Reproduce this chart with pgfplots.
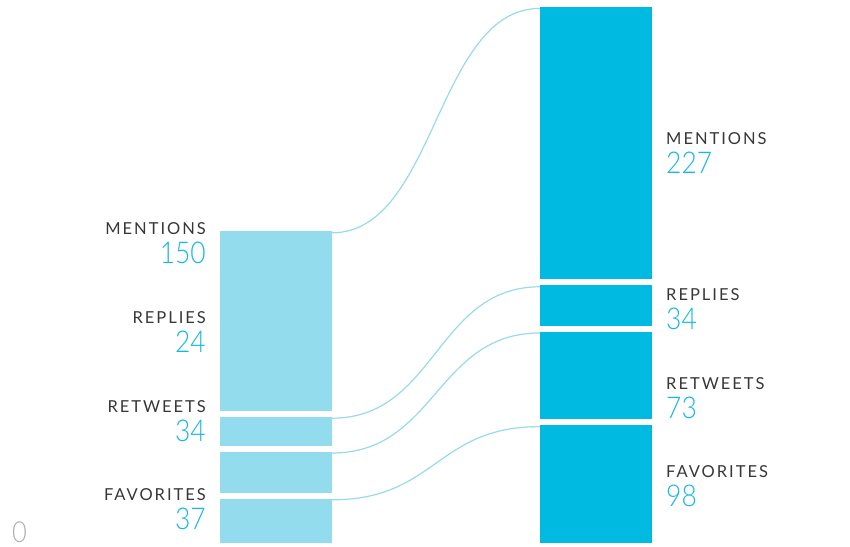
\documentclass[border=0pt]{standalone}
\usepackage{fontspec}
\setmainfont{Lato}
\newfontfamily\namefont{Lato}[LetterSpace=12]
\newfontfamily\numfont{Lato}[UprightFont=* Light, FakeStretch=0.88]
\usepackage{pgfplots}
\pgfplotsset{compat=1.18}
\definecolor{lightbar}{RGB}{146,220,238}
\definecolor{darkbar}{RGB}{0,186,226}
\definecolor{flowline}{RGB}{150,218,236}
\definecolor{numcyan}{RGB}{22,184,226}
\definecolor{namegray}{RGB}{55,55,55}
\definecolor{zerogray}{RGB}{175,175,175}
\pgfplotsset{
  flowbase/.style={
    scale only axis, width=850pt, height=547pt,
    xmin=0, xmax=850, ymin=-3.333, ymax=452.5,
    hide axis, clip=false,
    ybar stacked, bar width=112,
  },
}
\tikzset{
  lbl/.style={inner sep=0pt, text=namegray, font=\namefont\fontsize{16.5}{18}\selectfont},
  val/.style={inner sep=0pt, text=numcyan, font=\numfont\fontsize{30}{31}\selectfont},
  flow/.style={draw=flowline, line width=1.2pt},
}

\begin{document}
\begin{tikzpicture}
% before: favorites, retweets, replies, mentions (gap 5 between segments)
\begin{axis}[flowbase]
\path (rel axis cs:0,0) rectangle (rel axis cs:1,1);
\addplot[fill=lightbar, draw=none] coordinates {(276,37)};
\addplot[fill=none, draw=none] coordinates {(276,5)};
\addplot[fill=lightbar, draw=none] coordinates {(276,34)};
\addplot[fill=none, draw=none] coordinates {(276,5)};
\addplot[fill=lightbar, draw=none] coordinates {(276,24)};
\addplot[fill=none, draw=none] coordinates {(276,5)};
\addplot[fill=lightbar, draw=none] coordinates {(276,150)};

% connectors
\draw[flow] (axis cs:332,258.5) .. controls (axis cs:436,258.5) and (axis cs:436,445.5) .. (axis cs:540,445.5);
\draw[flow] (axis cs:332,104) .. controls (axis cs:436,104) and (axis cs:436,213.5) .. (axis cs:540,213.5);
\draw[flow] (axis cs:332,75) .. controls (axis cs:436,75) and (axis cs:436,175) .. (axis cs:540,175);
\draw[flow] (axis cs:332,36) .. controls (axis cs:436,36) and (axis cs:436,97) .. (axis cs:540,97);

% left labels
\node[lbl, anchor=east] at (axis cs:206,261.7) {MENTIONS};
\node[val, anchor=east] at (axis cs:206,241.7) {150};
\node[lbl, anchor=east] at (axis cs:206,187.5) {REPLIES};
\node[val, anchor=east] at (axis cs:206,167.5) {24};
\node[lbl, anchor=east] at (axis cs:206,113.3) {RETWEETS};
\node[val, anchor=east] at (axis cs:206,93.3) {34};
\node[lbl, anchor=east] at (axis cs:206,40) {FAVORITES};
\node[val, anchor=east] at (axis cs:206,20) {37};

% right labels
\node[lbl, anchor=west] at (axis cs:666,336.7) {MENTIONS};
\node[val, anchor=west] at (axis cs:666,316.7) {227};
\node[lbl, anchor=west] at (axis cs:666,206.7) {REPLIES};
\node[val, anchor=west] at (axis cs:666,186.7) {34};
\node[lbl, anchor=west] at (axis cs:666,132.5) {RETWEETS};
\node[val, anchor=west] at (axis cs:666,112.5) {73};
\node[lbl, anchor=west] at (axis cs:666,59.2) {FAVORITES};
\node[val, anchor=west] at (axis cs:666,39.2) {98};

\node[val, text=zerogray, anchor=west, font=\numfont\fontsize{29}{30}\selectfont] at (axis cs:12,9.2) {0};
\end{axis}

% after: favorites, retweets, replies, mentions
\begin{axis}[flowbase]
\addplot[fill=darkbar, draw=none] coordinates {(596,98)};
\addplot[fill=none, draw=none] coordinates {(596,5)};
\addplot[fill=darkbar, draw=none] coordinates {(596,73)};
\addplot[fill=none, draw=none] coordinates {(596,5)};
\addplot[fill=darkbar, draw=none] coordinates {(596,34)};
\addplot[fill=none, draw=none] coordinates {(596,5)};
\addplot[fill=darkbar, draw=none] coordinates {(596,227)};
\end{axis}
\end{tikzpicture}
\end{document}
